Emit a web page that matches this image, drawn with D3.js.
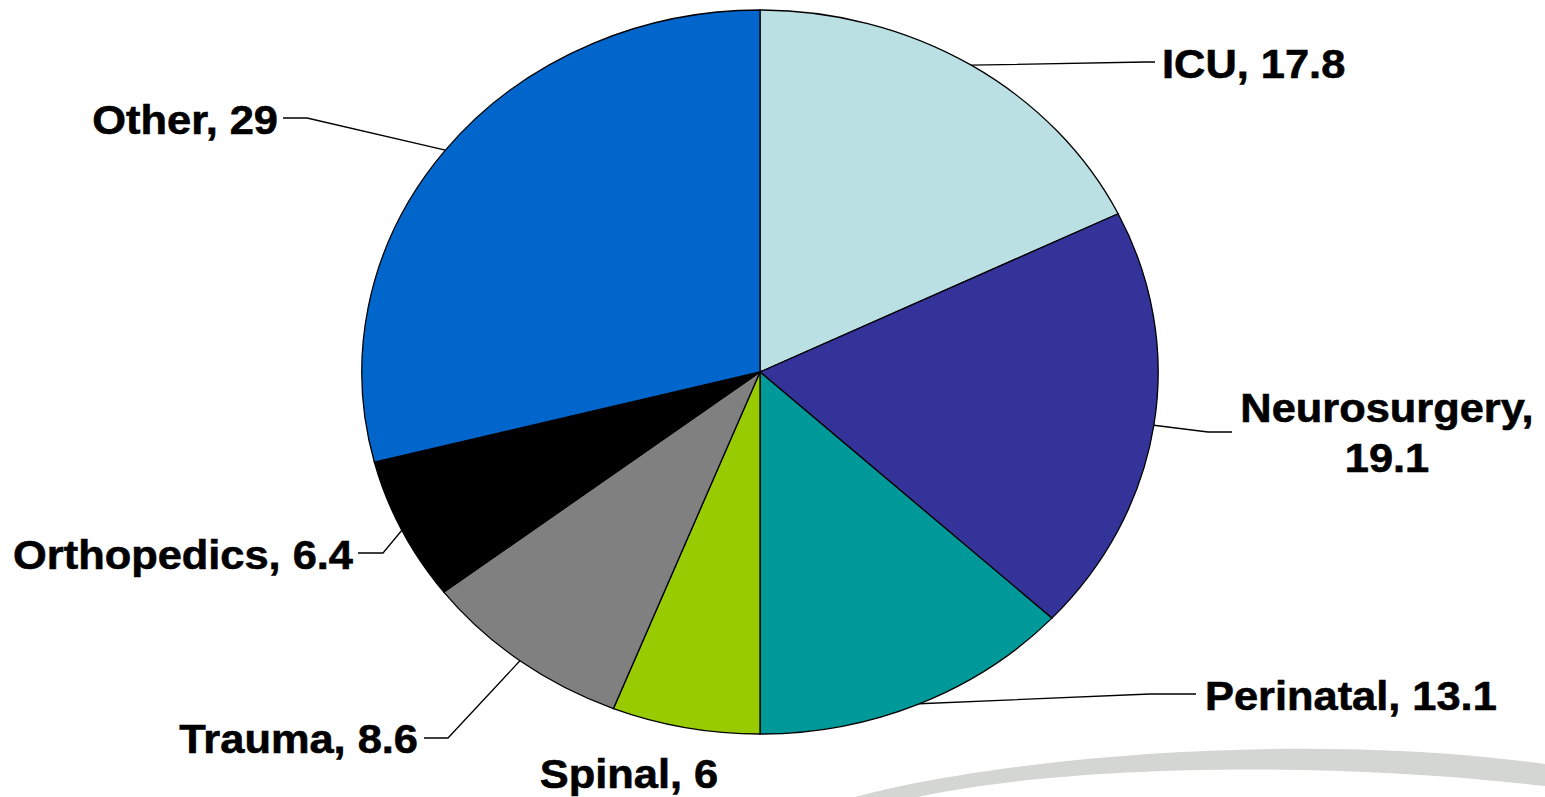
<!DOCTYPE html>
<html>
<head>
<meta charset="utf-8">
<script src="https://cdn.jsdelivr.net/npm/d3@7"></script>
<style>
  body { margin: 0; background: #fff; }
  text { font-family: "Liberation Sans", Arial, sans-serif; font-weight: bold; fill: #000; }
</style>
</head>
<body>
<div id="chart-container"></div>
<script>
const categories = ["ICU", "Neurosurgery", "Perinatal", "Spinal", "Trauma", "Orthopedics", "Other"];
const values = [17.8, 19.1, 13.1, 6, 8.6, 6.4, 29];
const colors = ["#BBE0E3", "#333399", "#009999", "#99CC00", "#808080", "#000000", "#0066CC"];

const width = 1545;
const height = 797;
const cx = 760, cy = 372;
const ry = 362;
const stretch = 1.1;   // pie is drawn as an ellipse

// label placement: anchor point, text-anchor, elbow and end of the leader
const labelLayout = [
    { x: 1162, y: 78, anchor: "start", elbow: [1145, 62], end: [1155, 62] },
    { x: 1387, y: 422, anchor: "middle", elbow: [1208, 432], end: [1232, 432], twoLines: true },
    { x: 1205, y: 710, anchor: "start", elbow: [1150, 694], end: [1196, 694] },
    { x: 629, y: 788, anchor: "middle", elbow: null },
    { x: 418, y: 753, anchor: "end", elbow: [448, 738], end: [424, 738] },
    { x: 353, y: 569, anchor: "end", elbow: [383, 553], end: [358, 553] },
    { x: 278, y: 134, anchor: "end", elbow: [307, 118], end: [283, 118] }
];

const svg = d3.select("#chart-container")
    .append("svg")
    .attr("width", width)
    .attr("height", height);

// grey swoosh in the corner
svg.append("path")
    .attr("d", "M855,797 C1000,758 1300,730 1545,764 L1545,786 C1300,758 1050,768 918,797 Z")
    .attr("fill", "#D4D6D2");

const data = categories.map((c, i) => ({ name: c, value: values[i], color: colors[i] }));

const pie = d3.pie()
    .sort(null)
    .value(d => d.value);

const arcs = pie(data);

const arc = d3.arc()
    .innerRadius(0)
    .outerRadius(ry);

const edgeArc = d3.arc()
    .innerRadius(ry)
    .outerRadius(ry);

const g = svg.append("g")
    .attr("transform", `translate(${cx},${cy}) scale(${stretch},1)`);

g.selectAll("path")
    .data(arcs)
    .enter().append("path")
    .attr("d", arc)
    .attr("fill", d => d.data.color)
    .attr("stroke", "#000")
    .attr("stroke-width", 1.3)
    .attr("vector-effect", "non-scaling-stroke");

// leader lines
arcs.forEach((d, i) => {
    const L = labelLayout[i];
    if (!L.elbow) return;
    const c = edgeArc.centroid(d);
    const start = [cx + c[0] * stretch, cy + c[1]];
    svg.append("path")
        .attr("d", d3.line()([start, L.elbow, L.end]))
        .attr("fill", "none")
        .attr("stroke", "#000")
        .attr("stroke-width", 1.3);
});

// labels
arcs.forEach((d, i) => {
    const L = labelLayout[i];
    const t = svg.append("text")
        .attr("transform", `translate(${L.x},${L.y}) scale(1.085,1)`)
        .attr("text-anchor", L.anchor)
        .attr("stroke", "#000")
        .attr("stroke-width", 0.6)
        .style("font-size", "40px");
    if (L.twoLines) {
        t.append("tspan").attr("x", 0).attr("y", 0).text(d.data.name + ",");
        t.append("tspan").attr("x", 0).attr("y", 50).text(d.data.value);
    } else {
        t.text(`${d.data.name}, ${d.data.value}`);
    }
});
</script>
</body>
</html>
